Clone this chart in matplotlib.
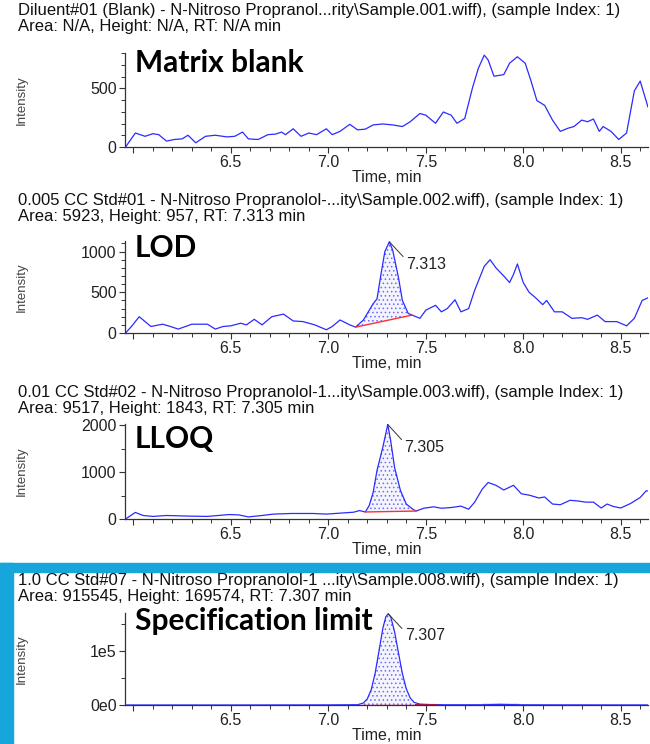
import matplotlib
matplotlib.use('Agg')
import matplotlib.pyplot as plt
from matplotlib.ticker import MultipleLocator, FuncFormatter
from matplotlib.patches import Rectangle
import numpy as np

# ---- data ----
blank_time = [5.96, 6.01, 6.06, 6.10, 6.13, 6.17, 6.21, 6.25, 6.28, 6.32, 6.37, 6.42, 6.48,
              6.52, 6.56, 6.59, 6.64, 6.69, 6.73, 6.76, 6.78, 6.82, 6.86, 6.90, 6.94, 6.99,
              7.02, 7.06, 7.11, 7.15, 7.19, 7.23, 7.28, 7.33, 7.38, 7.42, 7.47, 7.50, 7.55,
              7.59, 7.63, 7.66, 7.70, 7.74, 7.77, 7.80, 7.82, 7.85, 7.90, 7.93, 7.97, 8.01,
              8.04, 8.07, 8.11, 8.15, 8.19, 8.23, 8.26, 8.30, 8.33, 8.36, 8.39, 8.41, 8.45,
              8.49, 8.53, 8.57, 8.60, 8.64]
blank_int = [0, 119, 91, 113, 105, 50, 64, 69, 100, 36, 91, 100, 86,
             91, 127, 69, 64, 105, 110, 127, 105, 155, 91, 119, 105, 155,
             105, 133, 193, 146, 152, 188, 196, 188, 174, 215, 285, 271, 202,
             298, 271, 202, 243, 506, 671, 782, 740, 602, 616, 713, 768, 713,
             561, 395, 354, 229, 133, 160, 174, 229, 215, 238, 133, 174, 133,
             64, 119, 478, 561, 340]

lod_time = [5.96, 5.99, 6.03, 6.06, 6.09, 6.15, 6.19, 6.23, 6.30, 6.38, 6.42, 6.46, 6.50,
            6.55, 6.58, 6.62, 6.66, 6.71, 6.77, 6.82, 6.87, 6.93, 6.99, 7.02, 7.06, 7.11,
            7.14, 7.18, 7.23, 7.25, 7.27, 7.29, 7.313, 7.33, 7.36, 7.38, 7.41, 7.43, 7.47,
            7.50, 7.55, 7.58, 7.61, 7.65, 7.68, 7.72, 7.75, 7.80, 7.83, 7.86, 7.90, 7.93,
            7.95, 7.97, 8.00, 8.03, 8.06, 8.10, 8.12, 8.16, 8.20, 8.25, 8.30, 8.33, 8.38,
            8.42, 8.48, 8.53, 8.57, 8.61, 8.64]
lod_int = [0, 80, 200, 140, 80, 108, 80, 48, 108, 108, 48, 80, 88,
           120, 100, 168, 100, 200, 232, 148, 140, 100, 40, 80, 160, 100,
           72, 160, 360, 420, 720, 1000, 1120, 1020, 680, 400, 240, 220, 180,
           280, 340, 260, 300, 408, 260, 300, 520, 820, 900, 800, 700, 620,
           720, 848, 620, 500, 440, 348, 400, 260, 260, 180, 188, 168, 220,
           140, 140, 88, 180, 400, 432]
lod_peak = (7.14, 7.43)

lloq_time = [5.96, 6.01, 6.05, 6.10, 6.17, 6.28, 6.38, 6.49, 6.54, 6.59, 6.66, 6.72, 6.81,
             6.92, 6.99, 7.06, 7.13, 7.16, 7.19, 7.21, 7.23, 7.25, 7.28, 7.305, 7.32, 7.34,
             7.37, 7.40, 7.43, 7.45, 7.49, 7.54, 7.58, 7.63, 7.68, 7.72, 7.75, 7.79, 7.82,
             7.86, 7.90, 7.95, 7.99, 8.03, 8.08, 8.11, 8.15, 8.19, 8.24, 8.28, 8.32, 8.36,
             8.40, 8.43, 8.46, 8.50, 8.55, 8.60, 8.63, 8.64]
lloq_int = [0, 140, 75, 55, 75, 62, 55, 95, 88, 45, 75, 105, 118,
            118, 105, 125, 145, 180, 150, 290, 570, 1040, 1540, 2020, 1670, 1100,
            610, 320, 220, 170, 230, 260, 230, 245, 275, 210, 355, 640, 780,
            720, 620, 720, 540, 510, 450, 470, 320, 305, 400, 385, 360, 360,
            235, 320, 270, 235, 330, 460, 600, 600]
lloq_peak = (7.19, 7.45)

spec_time = [5.96, 6.50, 7.00, 7.15, 7.18, 7.20, 7.22, 7.24, 7.26, 7.28, 7.295, 7.307,
             7.32, 7.34, 7.36, 7.38, 7.40, 7.42, 7.44, 7.47, 7.52, 7.60, 7.80, 7.88,
             7.97, 8.20, 8.64]
spec_int = [0, 0, 200, 500, 3800, 11400, 28300, 58700, 100600, 142800, 164000, 169574,
            164000, 136000, 96700, 58400, 30000, 13200, 4900, 1600, 800, 400, 400, 1200,
            400, 200, 100]
spec_peak = (7.17, 7.45)

rt_labels = [None, "7.313", "7.305", "7.307"]
big_labels = ["Matrix blank", "LOD", "LLOQ", "Specification limit"]
headers = [
    ("Diluent#01 (Blank) - N-Nitroso Propranol...rity\\Sample.001.wiff), (sample Index: 1)",
     "Area: N/A, Height: N/A, RT: N/A min"),
    ("0.005 CC Std#01 - N-Nitroso Propranolol-...ity\\Sample.002.wiff), (sample Index: 1)",
     "Area: 5923, Height: 957, RT: 7.313 min"),
    ("0.01 CC Std#02 - N-Nitroso Propranolol-1...ity\\Sample.003.wiff), (sample Index: 1)",
     "Area: 9517, Height: 1843, RT: 7.305 min"),
    ("1.0 CC Std#07 - N-Nitroso Propranolol-1 ...ity\\Sample.008.wiff), (sample Index: 1)",
     "Area: 915545, Height: 169574, RT: 7.307 min"),
]

LINE = '#2b2bff'
FILL = '#f4f4ff'
RED = '#ff3030'
FONT = 'Liberation Sans'
plt.rcParams['hatch.linewidth'] = 0.6

fig = plt.figure(figsize=(6.5, 7.44), dpi=100)
W, H = 650.0, 744.0

# axes boxes in pixels: (top, bottom)
boxes = [(53, 147), (241, 333), (424, 519), (613, 705)]
header_y = [(11, 27), (201, 217), (393, 409), (580, 597)]
label_y = [63, 248, 439, 621]
ylims = [800, 1130, 2030, 171000]
ymajor = [500, 500, 1000, 100000]
yminor = [100, 100, 500, 50000]
series = [(blank_time, blank_int, None), (lod_time, lod_int, lod_peak),
          (lloq_time, lloq_int, lloq_peak), (spec_time, spec_int, spec_peak)]

# blue frame around last panel
fig.patches.append(Rectangle((0, 0), 13 / W, 1 - 563 / H, transform=fig.transFigure,
                             color='#17a6dc', zorder=0))
fig.patches.append(Rectangle((0, 1 - 572 / H), 1, 9 / H, transform=fig.transFigure,
                             color='#17a6dc', zorder=0))

for i, ((top, bot), (t, y, peak)) in enumerate(zip(boxes, series)):
    ax = fig.add_axes([125 / W, 1 - bot / H, 523 / W, (bot - top) / H])
    ax.plot(t, y, color=LINE, lw=0.9, zorder=3)
    if peak is not None:
        t_arr = np.array(t)
        y_arr = np.array(y)
        mask = (t_arr >= peak[0]) & (t_arr <= peak[1])
        ya, yb = np.interp(peak[0], t, y), np.interp(peak[1], t, y)
        if i == 3:
            ya, yb = 0, 0
        base = np.interp(t_arr[mask], [peak[0], peak[1]], [ya, yb])
        ax.fill_between(t_arr[mask], base, y_arr[mask], facecolor=FILL,
                        hatch='....', edgecolor='#6a6aff', linewidth=0, zorder=2)
        ax.plot([peak[0], peak[1]], [ya, yb], color=RED, lw=1.0, zorder=4)
        # apex annotation
        k = int(np.argmax(y_arr))
        ax.annotate(rt_labels[i], xy=(t_arr[k], y_arr[k]),
                    xytext=(t_arr[k] + 0.085, y_arr[k] - 0.16 * ylims[i]),
                    textcoords='data', fontsize=11.5, family=FONT, color='#222222',
                    va='top', ha='left',
                    arrowprops=dict(arrowstyle='-', color='#333333', lw=0.7,
                                    shrinkA=0, shrinkB=0, relpos=(0, 0.8)))
    if i == 3:
        ax.plot([7.45, 7.56], [600, 600], color='#a01850', lw=1.5, zorder=4)
        ax.plot([7.80, 7.97], [900, 900], color='#8c8cff', lw=2.5, zorder=2)

    ax.set_xlim(5.957, 8.64)
    ax.set_ylim(0, ylims[i])
    ax.xaxis.set_major_locator(MultipleLocator(0.5))
    ax.xaxis.set_minor_locator(MultipleLocator(0.1))
    ax.yaxis.set_major_locator(MultipleLocator(ymajor[i]))
    ax.yaxis.set_minor_locator(MultipleLocator(yminor[i]))
    ax.xaxis.set_major_formatter(FuncFormatter(lambda v, p: '' if v < 6.2 else f'{v:.1f}'))
    if i == 3:
        ax.yaxis.set_major_formatter(FuncFormatter(lambda v, p: f'{v / 1e5:.0f}e{5 if v else 0}'))
    else:
        ax.yaxis.set_major_formatter(FuncFormatter(lambda v, p: f'{v:.0f}'))
    for s in ('top', 'right'):
        ax.spines[s].set_visible(False)
    for s in ('left', 'bottom'):
        ax.spines[s].set_color('#333333')
        ax.spines[s].set_linewidth(0.9)
    ax.tick_params(axis='both', which='major', length=4, width=0.8, color='#333333',
                   labelsize=11.5, labelcolor='#222222', pad=2)
    ax.tick_params(axis='both', which='minor', length=3, width=0.7, color='#333333')
    for lab in ax.get_xticklabels() + ax.get_yticklabels():
        lab.set_family(FONT)
    ax.set_xlabel('Time, min', fontsize=11.5, family=FONT, color='#222222', labelpad=0)
    ax.set_facecolor('none')

    # rotated y label at fixed x
    fig.text(22 / W, 1 - (top + bot) / 2 / H, 'Intensity', rotation=90, ha='center',
             va='center', fontsize=9.5, color='#444444',
             family=['Liberation Sans Narrow', 'Liberation Sans'])

    # header lines
    fig.text(18 / W, 1 - header_y[i][0] / H, headers[i][0], fontsize=12,
             family=FONT, color='#111111', va='center', ha='left')
    fig.text(18 / W, 1 - header_y[i][1] / H, headers[i][1], fontsize=12,
             family=FONT, color='#111111', va='center', ha='left')

    # big panel label
    fig.text(135 / W, 1 - label_y[i] / H, big_labels[i], fontsize=21.5, fontweight='bold',
             family=['Lato', 'DejaVu Sans'], color='black', va='center', ha='left')

fig.savefig('out.png', dpi=100, facecolor='white')
